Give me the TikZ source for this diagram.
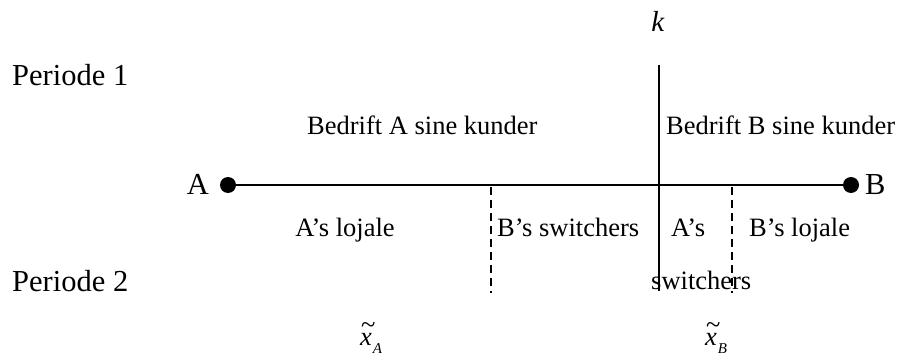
\documentclass[tikz,border=0pt]{standalone}
\usepackage{fontspec}
\setmainfont{Liberation Serif}
\newcommand{\tilx}[1]{\makebox[0pt][l]{\hspace{1pt}\raisebox{12pt}{\textasciitilde}}\textit{x}\hspace{1pt}\raisebox{-8pt}{\fontsize{15}{18}\selectfont\textit{#1}}}
\begin{document}
\begin{tikzpicture}[x=1pt,y=-1pt,
  big/.style={inner sep=0pt,font=\fontsize{30.5}{36}\selectfont},
  lab/.style={inner sep=0pt,font=\fontsize{26.5}{31}\selectfont},
  dot/.style={circle,fill=black,inner sep=0pt,minimum size=16pt},
  solidln/.style={line width=1.6pt},
  dashln/.style={line width=1.6pt,dash pattern=on 8pt off 5pt}]
\useasboundingbox (0,0) rectangle (899,358);
% dots
\node[dot] (A) at (228,185) {};
\node[dot] (B) at (851,185) {};
\draw[solidln] (A.center) -- (B.center);
% vertical k line
\coordinate (ktop) at (659,65);
\coordinate (kbot) at (659,291);
\draw[solidln] (ktop) -- (kbot);
\coordinate (d1t) at (491,187);
\coordinate (d1b) at (491,293);
\coordinate (d2t) at (732,187);
\coordinate (d2b) at (732,293);
\draw[dashln] (d1t) -- (d1b);
\draw[dashln] (d2t) -- (d2b);
% texts
\node[lab,anchor=base,font=\fontsize{29}{34}\selectfont] (k) at (658,32) {\textit{k}};
\node[big,anchor=base west] (p1) at (12,86) {Periode 1};
\node[big,anchor=base west] (p2) at (12,291) {Periode 2};
\node[lab,anchor=base west] (bA) at (307,135) {Bedrift A sine kunder};
\node[lab,anchor=base west] (bB) at (666,135) {Bedrift B sine kunder};
\node[big,anchor=base east] (lA) at (209,194) {A};
\node[big,anchor=base west] (lB) at (865,194) {B};
\node[lab,anchor=base] (al) at (345,236) {A’s lojale};
\node[lab,anchor=base west] (bs) at (497,236) {B’s switchers};
\node[lab,anchor=base west] (as) at (671,236) {A’s};
\node[lab,anchor=base west] (bl) at (749,236) {B’s lojale};
\node[lab,anchor=base west] (sw) at (651,289) {switchers};
\node[lab,anchor=base west] (xa) at (360,345) {\tilx{A}};
\node[lab,anchor=base west] (xb) at (705,345) {\tilx{B}};
\end{tikzpicture}
\end{document}
